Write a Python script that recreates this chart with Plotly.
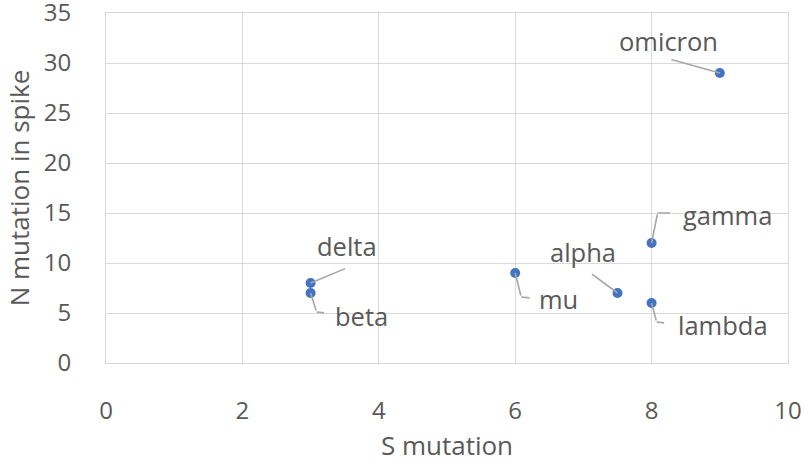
import plotly.graph_objects as go

# Variant mutation counts
variants = ["omicron", "gamma", "alpha", "lambda", "mu", "delta", "beta"]
s_mutation = [9, 8, 7.5, 8, 6, 3, 3]
n_mutation_spike = [29, 12, 7, 6, 9, 8, 7]

# Label placement (pixel offsets from each point) and leader-line paths
label_offsets = {
    "omicron": (-51, 32),
    "gamma": (76, 28),
    "alpha": (-35, 41),
    "lambda": (71, -22),
    "mu": (43, -26),
    "delta": (36, 37),
    "beta": (51, -23),
}
# each leader: list of pixel vertices relative to the point
leaders = {
    "omicron": [(0, 0), (-50, 14)],
    "gamma": [(0, 0), (6, 30), (20, 30)],
    "alpha": [(0, 0), (-27, 20)],
    "lambda": [(0, 0), (5, -19), (14, -20)],
    "mu": [(0, 0), (6, -24), (16, -25)],
    "delta": [(0, 0), (36, 15)],
    "beta": [(0, 0), (6, -19), (15, -20)],
}

TEXT = "#595959"
GRID = "#d9d9d9"
FONT = "'Open Sans', sans-serif"
TICK_FS = 24
LABEL_FS = 25.5
TITLE_FS = 26

fig = go.Figure()
fig.add_trace(go.Scatter(
    x=s_mutation, y=n_mutation_spike, mode="markers",
    marker=dict(color="#4472c4", size=10),
    hoverinfo="x+y+text", text=variants, showlegend=False,
))

annotations = []
for name, xv, yv in zip(variants, s_mutation, n_mutation_spike):
    dx, dy = label_offsets[name]
    annotations.append(dict(
        x=xv, y=yv, xref="x", yref="y", text=name, showarrow=False,
        xshift=dx, yshift=dy, font=dict(size=LABEL_FS, color=TEXT, family=FONT),
    ))
    pts = leaders[name]
    for (x0, y0), (x1, y1) in zip(pts[:-1], pts[1:]):
        annotations.append(dict(
            x=xv, y=yv, xref="x", yref="y", text="",
            showarrow=True, arrowhead=0, arrowwidth=1.6, arrowcolor="#a6a6a6",
            axref="pixel", ayref="pixel",
            ax=x1 - x0, ay=-(y1 - y0),
            xshift=x0, yshift=y0, standoff=0, startstandoff=0,
        ))

fig.update_layout(
    width=805, height=468,
    margin=dict(l=106, r=17, t=13, b=105, autoexpand=False),
    paper_bgcolor="white", plot_bgcolor="white",
    font=dict(family=FONT, size=TICK_FS, color=TEXT),
    annotations=annotations,
    xaxis=dict(
        range=[0, 10], dtick=2, showgrid=True, gridcolor=GRID, gridwidth=1,
        zeroline=False, showline=True, linecolor=GRID, mirror=True,
        ticks="", ticklabelstandoff=26, automargin=False,
        ticklabeloverflow="allow",
        tickfont=dict(size=TICK_FS, color=TEXT),
        title=dict(text="S mutation", standoff=12, font=dict(size=TITLE_FS, color=TEXT)),
    ),
    yaxis=dict(
        range=[0, 35], dtick=5, showgrid=True, gridcolor=GRID, gridwidth=1,
        zeroline=False, showline=True, linecolor=GRID, mirror=True,
        ticks="", ticklabelstandoff=29, automargin=False,
        ticklabeloverflow="allow",
        tickfont=dict(size=TICK_FS, color=TEXT),
        title=dict(text="N mutation in spike", standoff=6, font=dict(size=TITLE_FS, color=TEXT)),
    ),
)

fig.write_html("out.html")
